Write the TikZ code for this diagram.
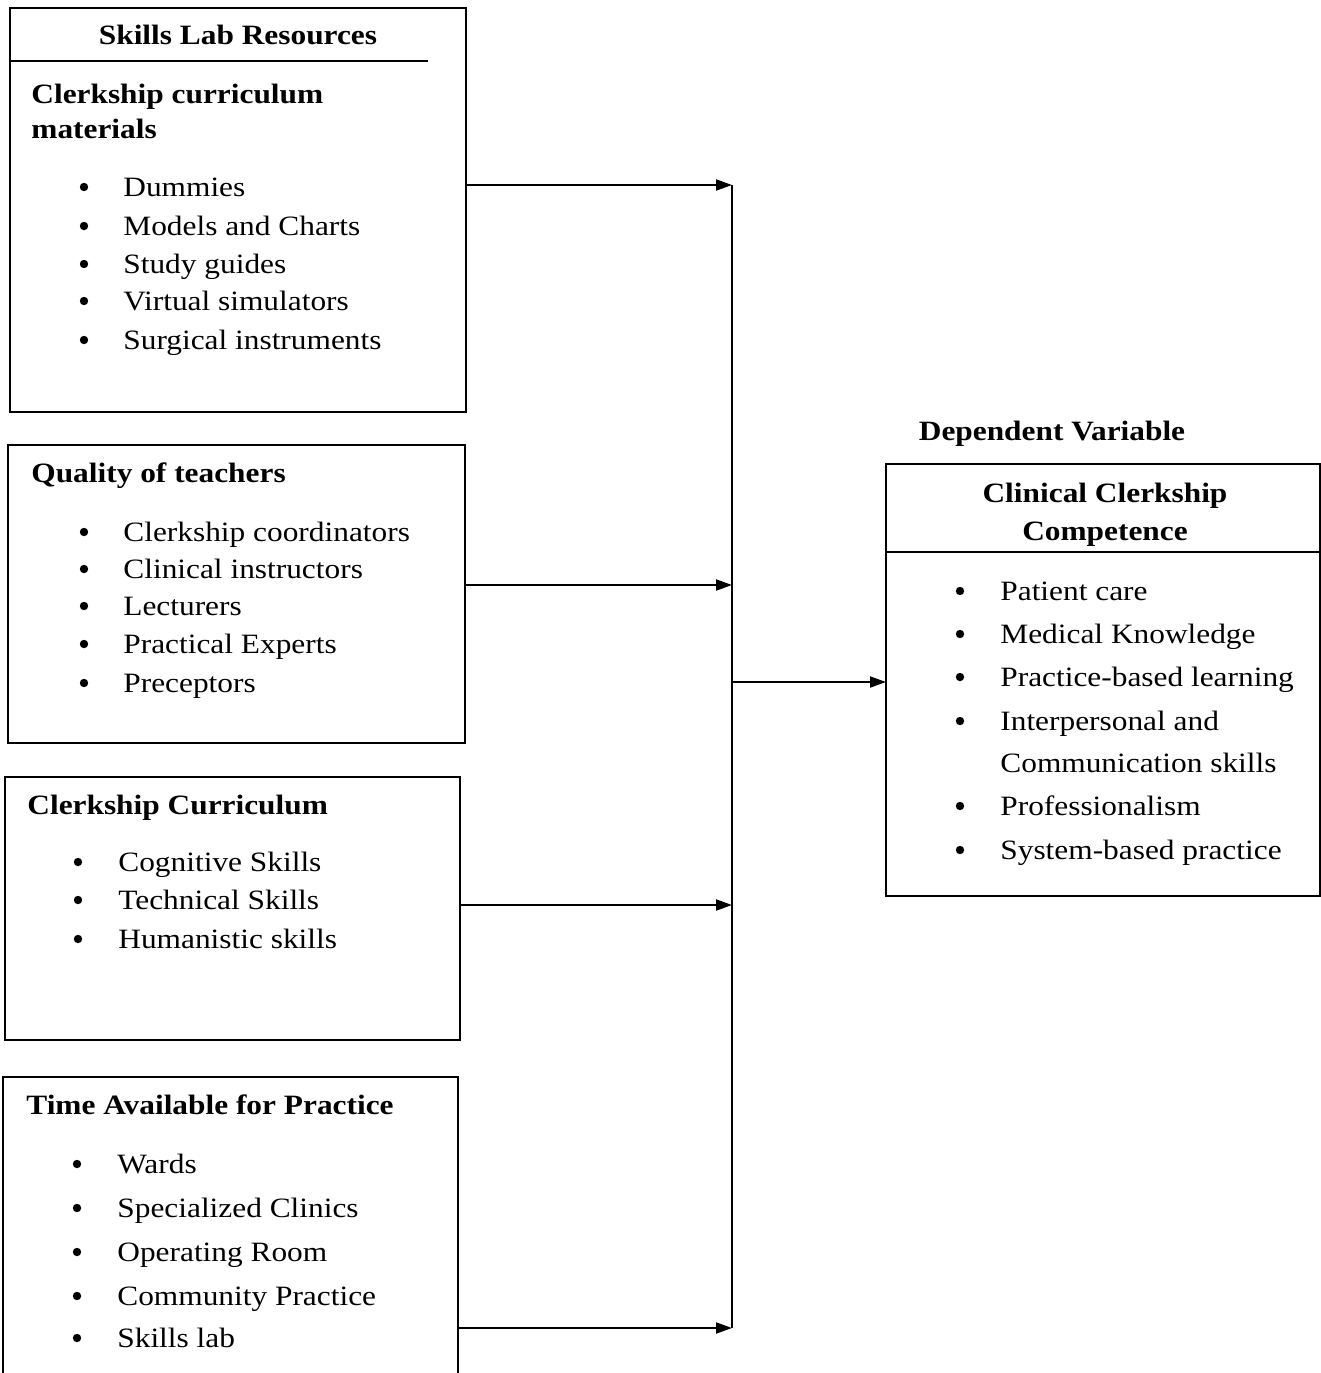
\documentclass[tikz,border=0pt]{standalone}
\usepackage{fontspec}
\setmainfont[FakeStretch=1.12]{Liberation Serif}
\usetikzlibrary{arrows.meta}
\begin{document}
\begin{tikzpicture}[x=0.5pt,y=-0.5pt,
  box/.style={draw, line width=1pt, rectangle, inner sep=0pt, outer sep=0pt},
  sep/.style={line width=1pt},
  hd/.style={font=\bfseries\fontsize{14}{16}\selectfont, anchor=base west, inner sep=0pt},
  hdc/.style={font=\bfseries\fontsize{14}{16}\selectfont, anchor=base, inner sep=0pt},
  itm/.style={font=\fontsize{14}{16}\selectfont, anchor=base west, inner sep=0pt},
  bul/.style={circle, fill, inner sep=0pt, minimum size=4.2pt},
  ln/.style={line width=1pt},
  arr/.style={line width=1pt, -{Triangle[length=8pt,width=5.5pt]}}]
\useasboundingbox (0,0) rectangle (1321,1373);
\clip (0,0) rectangle (1321,1373);
\fill[white] (0,0) rectangle (1321,1373);

% Box 1
\node[box, minimum width=228pt, minimum height=202pt] (r1) at (238,210) {};
\draw[sep] (10,61) -- (428,61);
\node[hdc] (t0) at (238,44) {Skills Lab Resources};
\node[hd] (t1) at (31,103) {Clerkship curriculum};
\node[hd] (t1b) at (31,138) {materials};
\foreach \y/\t [count=\i] in {187/Dummies,226/Models and Charts,264/Study guides,301/Virtual simulators,340/Surgical instruments}{
  \node[bul] (b1-\i) at (84,\y) {};
  \node[itm] (i1-\i) at (123,\y+9) {\t};
}

% Box 2
\node[box, minimum width=228.5pt, minimum height=149pt] (r2) at (236.5,594) {};
\node[hd] (t2) at (31,482) {Quality of teachers};
\foreach \y/\t [count=\i] in {532/Clerkship coordinators,569/Clinical instructors,606/Lecturers,644/Practical Experts,683/Preceptors}{
  \node[bul] (b2-\i) at (84,\y) {};
  \node[itm] (i2-\i) at (123,\y+9) {\t};
}

% Box 3
\node[box, minimum width=227.5pt, minimum height=131.5pt] (r3) at (232.5,908.5) {};
\node[hd] (t3) at (27,814) {Clerkship Curriculum};
\foreach \y/\t [count=\i] in {862/Cognitive Skills,900/Technical Skills,939/Humanistic skills}{
  \node[bul] (b3-\i) at (78,\y) {};
  \node[itm] (i3-\i) at (118,\y+9) {\t};
}

% Box 4
\node[box, minimum width=227.5pt, minimum height=161.5pt] (r4) at (230.5,1238.5) {};
\node[hd] (t4) at (26,1114) {Time Available for Practice};
\foreach \y/\t [count=\i] in {1164/Wards,1208/Specialized Clinics,1252/Operating Room,1296/Community Practice,1338/Skills lab}{
  \node[bul] (b4-\i) at (77,\y) {};
  \node[itm] (i4-\i) at (117,\y+9) {\t};
}

% Dependent variable box
\node[hdc] (dv) at (1052,440) {Dependent Variable};
\node[box, minimum width=217pt, minimum height=216pt] (dep) at (1103,680) {};
\draw[sep] (886,552) -- (1320,552);
\node[hdc] (dt1) at (1105,502) {Clinical Clerkship};
\node[hdc] (dt2) at (1105,540) {Competence};
\foreach \y [count=\i] in {591,634,677,721,806,850}{
  \node[bul] (bd-\i) at (960,\y) {};
}
\node[itm] (id-1) at (1000,600) {Patient care};
\node[itm] (id-2) at (1000,643) {Medical Knowledge};
\node[itm] (id-3) at (1000,686) {Practice-based learning};
\node[itm] (id-4) at (1000,730) {Interpersonal and};
\node[itm] (id-4b) at (1000,772) {Communication skills};
\node[itm] (id-5) at (1000,815) {Professionalism};
\node[itm] (id-6) at (1000,859) {System-based practice};

% Connectors
\coordinate (j1) at (732,185);
\coordinate (j2) at (732,585);
\coordinate (j3) at (732,905);
\coordinate (j4) at (732,1328);
\coordinate (jm) at (732,682);
\draw[ln] (j1) -- (j4);
\draw[arr] (r1.east |- j1) -- (j1);
\draw[arr] (r2.east |- j2) -- (j2);
\draw[arr] (r3.east |- j3) -- (j3);
\draw[arr] (r4.east |- j4) -- (j4);
\draw[arr] (jm) -- (dep.west |- jm);
\end{tikzpicture}
\end{document}
